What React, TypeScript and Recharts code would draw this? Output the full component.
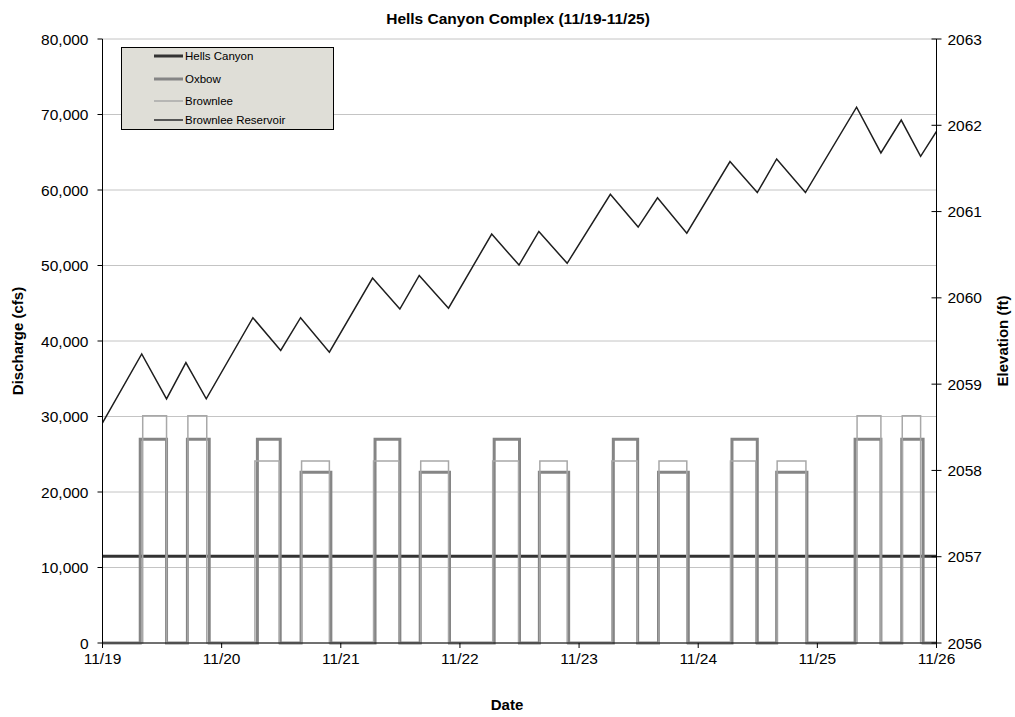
import React from "react";
import { LineChart, Line, XAxis, YAxis, CartesianGrid } from "recharts";

// ---- data (hours since 11/19 00:00) ----
const dateLabels = ["11/19", "11/20", "11/21", "11/22", "11/23", "11/24", "11/25", "11/26"];
const dateTicks = [0, 24, 48, 72, 96, 120, 144, 168];
const dischargeTicks = [0, 10000, 20000, 30000, 40000, 50000, 60000, 70000, 80000];
const elevationTicks = [2056, 2057, 2058, 2059, 2060, 2061, 2062, 2063];

const hellsCanyonFlow = 11500;

const oxbowRise = [7.6, 17.1, 31.2, 40.0, 54.9, 64.0, 78.9, 88.0, 102.9, 112.0, 126.8, 135.8, 151.6, 161.0];
const oxbowFall = [12.9, 21.5, 35.8, 46.0, 59.9, 69.9, 84.0, 93.9, 107.8, 118.0, 131.9, 141.9, 156.8, 165.3];
const oxbowPeak = [27000, 27000, 27000, 22600, 27000, 22600, 27000, 22600, 27000, 22600, 27000, 22600, 27000, 27000];

const brownleeRise = [8.1, 17.2, 30.7, 40.1, 54.6, 64.1, 78.6, 88.1, 102.6, 112.1, 126.5, 135.9, 152.0, 161.1];
const brownleeFall = [12.9, 21.0, 35.6, 45.7, 59.7, 69.7, 83.8, 93.6, 107.7, 117.7, 131.6, 141.7, 156.8, 164.8];
const brownleePeak = [30100, 30100, 24100, 24100, 24100, 24100, 24100, 24100, 24100, 24100, 24100, 24100, 30100, 30100];

const reservoirHours = [0, 7.9, 12.9, 16.8, 20.9, 30.3, 35.9, 39.9, 45.7, 54.4, 59.9, 63.8, 69.7, 78.4, 83.9, 87.9, 93.6, 102.3, 107.9, 111.8, 117.7, 126.4, 131.9, 135.8, 141.6, 151.9, 156.8, 160.9, 164.8, 168];
const reservoirElev = [2058.55, 2059.35, 2058.83, 2059.25, 2058.83, 2059.77, 2059.39, 2059.77, 2059.37, 2060.23, 2059.87, 2060.26, 2059.88, 2060.74, 2060.38, 2060.77, 2060.40, 2061.20, 2060.82, 2061.16, 2060.75, 2061.58, 2061.22, 2061.61, 2061.22, 2062.21, 2061.68, 2062.06, 2061.64, 2061.93];

// ---- build tables ----
function buildSteps(rise: number[], fall: number[], peak: number[]) {
  const pts: { h: number; v: number }[] = [{ h: 0, v: 0 }];
  rise.forEach((r, i) => {
    pts.push({ h: r, v: peak[i] });
    pts.push({ h: fall[i], v: 0 });
  });
  pts.push({ h: 168, v: 0 });
  return pts;
}
const hellsData = [{ h: 0, v: hellsCanyonFlow }, { h: 168, v: hellsCanyonFlow }];
const oxbowData = buildSteps(oxbowRise, oxbowFall, oxbowPeak);
const brownleeData = buildSteps(brownleeRise, brownleeFall, brownleePeak);
const reservoirData = reservoirHours.map((h, i) => ({ h, v: reservoirElev[i] }));

const FONT = "'Liberation Sans', Arial, sans-serif";
const TICK_FS = 15.5;

const legendItems = [
  { name: "Hells Canyon", color: "#333333", width: 3 },
  { name: "Oxbow", color: "#858585", width: 3 },
  { name: "Brownlee", color: "#a8a8a8", width: 1.5 },
  { name: "Brownlee Reservoir", color: "#555555", width: 2 },
];

const RightTick = (props: any) => {
  const { x, y, payload } = props;
  return (
    <g>
      <line x1={x - 5} x2={x + 5} y1={y} y2={y} stroke="#000" strokeWidth={1} />
      <text x={x + 11} y={y} dy="0.36em" textAnchor="start" fontSize={TICK_FS} fontFamily={FONT} fill="#000">
        {payload.value}
      </text>
    </g>
  );
};

export default function App() {
  return (
    <div style={{ position: "absolute", left: 0, top: 0, width: 1015, height: 717, background: "#fff" }}>
      <LineChart
        width={1015}
        height={717}
        margin={{ top: 39, right: 18.5, left: 42.5, bottom: 44 }}
        style={{ fontFamily: FONT }}
      >
        <CartesianGrid yAxisId="q" vertical={false} stroke="#c4c4c4" strokeWidth={1} />
        <XAxis
          dataKey="h"
          type="number"
          domain={[0, 168]}
          ticks={dateTicks}
          tickFormatter={(v: number) => dateLabels[dateTicks.indexOf(v)]}
          height={30}
          tickSize={5}
          tickMargin={5}
          stroke="#000"
          tick={{ fill: "#000", fontSize: TICK_FS, fontFamily: FONT }}
          allowDataOverflow
        />
        <YAxis
          yAxisId="q"
          domain={[0, 80000]}
          ticks={dischargeTicks}
          tickFormatter={(v: number) => v.toLocaleString("en-US")}
          width={60}
          tickSize={5}
          tickMargin={9}
          stroke="#000"
          tick={{ fill: "#000", fontSize: TICK_FS, fontFamily: FONT }}
        />
        <YAxis
          yAxisId="e"
          orientation="right"
          domain={[2056, 2063]}
          ticks={elevationTicks}
          width={60}
          tickLine={false}
          tickSize={0}
          tickMargin={0}
          stroke="#000"
          tick={<RightTick />}
        />
        <Line yAxisId="q" data={hellsData} dataKey="v" type="linear" stroke="#333333" strokeWidth={3} dot={false} isAnimationActive={false} />
        <Line yAxisId="q" data={oxbowData} dataKey="v" type="stepAfter" stroke="#858585" strokeWidth={3} dot={false} isAnimationActive={false} />
        <Line yAxisId="q" data={brownleeData} dataKey="v" type="stepAfter" stroke="#a8a8a8" strokeWidth={1.5} dot={false} isAnimationActive={false} />
        <Line yAxisId="e" data={reservoirData} dataKey="v" type="linear" stroke="#1e1e1e" strokeWidth={1.5} dot={false} isAnimationActive={false} />
      </LineChart>
      <svg width={1015} height={717} style={{ position: "absolute", left: 0, top: 0, pointerEvents: "none" }}>
        <text x={518} y={24} textAnchor="middle" fontSize={15.5} fontWeight="bold" fontFamily={FONT}>
          Hells Canyon Complex (11/19-11/25)
        </text>
        <text x={507} y={710} textAnchor="middle" fontSize={15} fontWeight="bold" fontFamily={FONT}>
          Date
        </text>
        <text transform="translate(23,341) rotate(-90)" textAnchor="middle" fontSize={15} fontWeight="bold" fontFamily={FONT}>
          Discharge (cfs)
        </text>
        <text transform="translate(1008,341) rotate(-90)" textAnchor="middle" fontSize={15} fontWeight="bold" fontFamily={FONT}>
          Elevation (ft)
        </text>
        <rect x={121.5} y={47.5} width={212} height={82} fill="#dfded7" stroke="#000" strokeWidth={1} />
        {legendItems.map((it, i) => {
          const y = [56, 79, 101, 120][i];
          return (
            <g key={it.name}>
              <line x1={154} x2={183} y1={y} y2={y} stroke={it.color} strokeWidth={it.width} />
              <text x={185} y={y} dy="0.36em" fontSize={11.5} fontFamily={FONT} fill="#000">
                {it.name}
              </text>
            </g>
          );
        })}
      </svg>
    </div>
  );
}
